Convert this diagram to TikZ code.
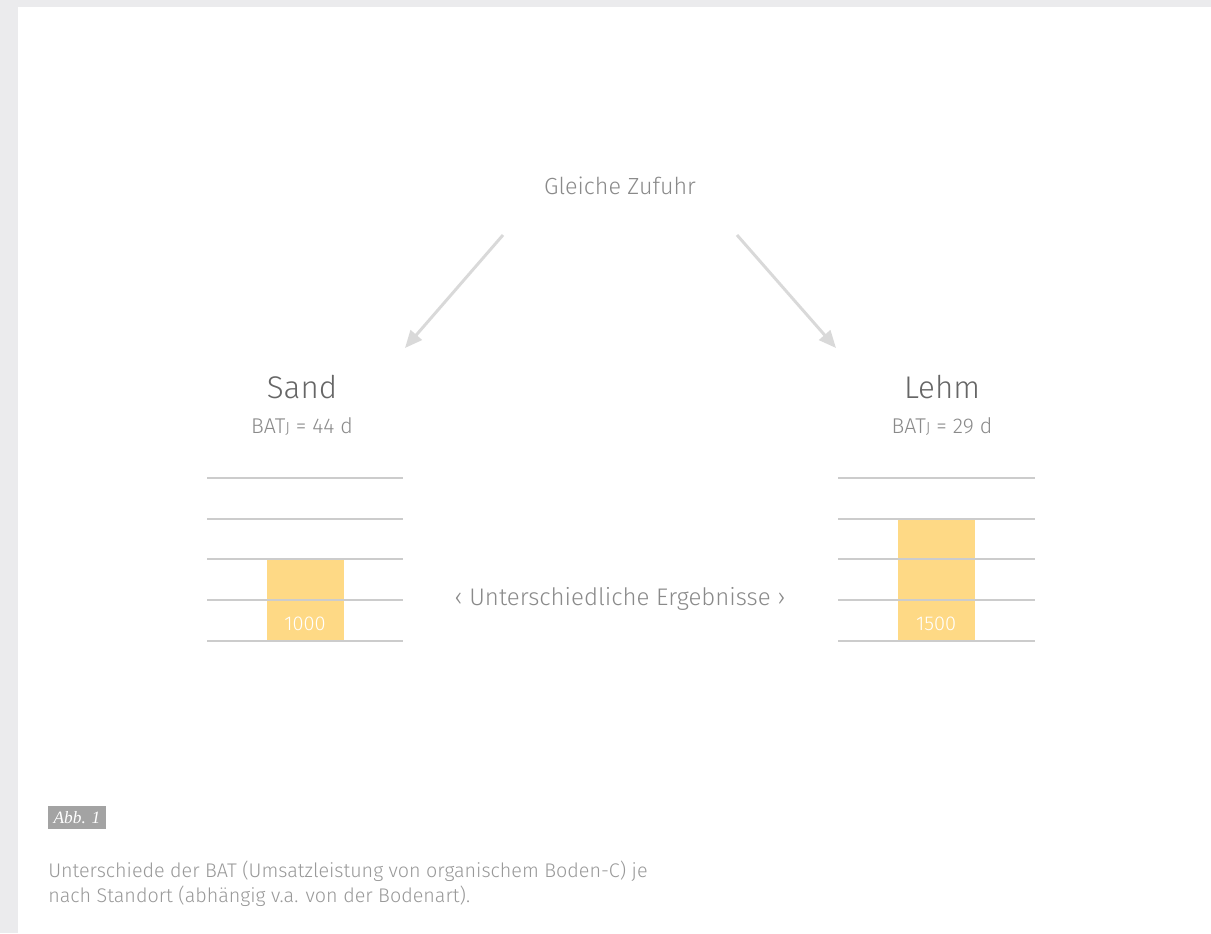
\documentclass[tikz,border=0pt]{standalone}
\usepackage{fontspec}
\setmainfont{Fira Sans Light}
\newfontfamily\serifit{Liberation Serif}
\usetikzlibrary{arrows.meta}
\definecolor{bgray}{HTML}{EBEBED}
\definecolor{txtgray}{HTML}{8A8A8A}
\definecolor{darkgray}{HTML}{666666}
\definecolor{capgray}{HTML}{999999}
\definecolor{linegray}{HTML}{CCCCCC}
\definecolor{arrgray}{HTML}{D9D9D9}
\definecolor{barcol}{HTML}{FED985}
\definecolor{abbgray}{HTML}{A3A3A3}
\tikzset{
  gridline/.style={draw=linegray, line width=1.1pt},
  bar/.style={fill=barcol, draw=none},
  arr/.style={draw=arrgray, line width=2.2pt, -{Triangle[length=13pt,width=11pt]}},
  title/.style={text=darkgray, font=\fontsize{23.5}{28}\selectfont, inner sep=0pt, anchor=base},
  sub/.style={text=txtgray, font=\fontsize{16}{19}\selectfont, inner sep=0pt, anchor=base},
  val/.style={text=white, font=\fontsize{15}{18}\selectfont, inner sep=0pt, anchor=base},
  head/.style={text=txtgray, font=\fontsize{17.5}{21}\selectfont, inner sep=0pt, anchor=base},
  caption/.style={text=capgray, font=\fontsize{14.8}{18}\selectfont, inner sep=0pt, anchor=base west, align=left},
}
\begin{document}
\begin{tikzpicture}[x=0.75pt,y=-0.75pt]
\fill[bgray] (0,0) rectangle (1211,933);
\fill[white] (18,7) rectangle (1211,933);
\useasboundingbox (0,0) rectangle (1211,933);

% header
\node[head] (top) at (620,194) {Gleiche Zufuhr};
\coordinate (tl) at (503,235);
\coordinate (tr) at (737,235);
\coordinate (hl) at (405,348);
\coordinate (hr) at (836,348);
\draw[arr] (tl) -- (hl);
\draw[arr] (tr) -- (hr);

% Sand
\node[title] (sand) at (302,398) {Sand};
\node[sub] (bs) at (302,433) {BAT{\fontsize{12}{13}\selectfont J} = 44 d};
\fill[bar] (267,559) rectangle (344,641);
\foreach \y in {478,519,559,600,641} \draw[gridline] (207,\y) -- (403,\y);
\node[val] (v1) at (305,630) {1000};

% Lehm
\node[title] (lehm) at (942,398) {Lehm};
\node[sub] (bl) at (942,433) {BAT{\fontsize{12}{13}\selectfont J} = 29 d};
\fill[bar] (898,518) rectangle (975,641);
\foreach \y in {478,519,559,600,641} \draw[gridline] (838,\y) -- (1035,\y);
\node[val] (v2) at (936,630) {1500};

% middle
\node[head, font=\fontsize{18}{21}\selectfont] (mid) at (620,605) {‹ Unterschiedliche Ergebnisse ›};

% figure label
\fill[abbgray] (48,806) rectangle (106,829);
\node[text=white, font=\serifit\itshape\fontsize{13}{14}\selectfont, inner sep=0pt, anchor=base] (abb) at (77,823) {Abb. 1};

% caption
\node[caption] (cap1) at (48,877) {Unterschiede der BAT (Umsatzleistung von organischem Boden-C) je};
\node[caption] (cap2) at (48,902) {nach Standort (abhängig v.a. von der Bodenart).};
\end{tikzpicture}
\end{document}
